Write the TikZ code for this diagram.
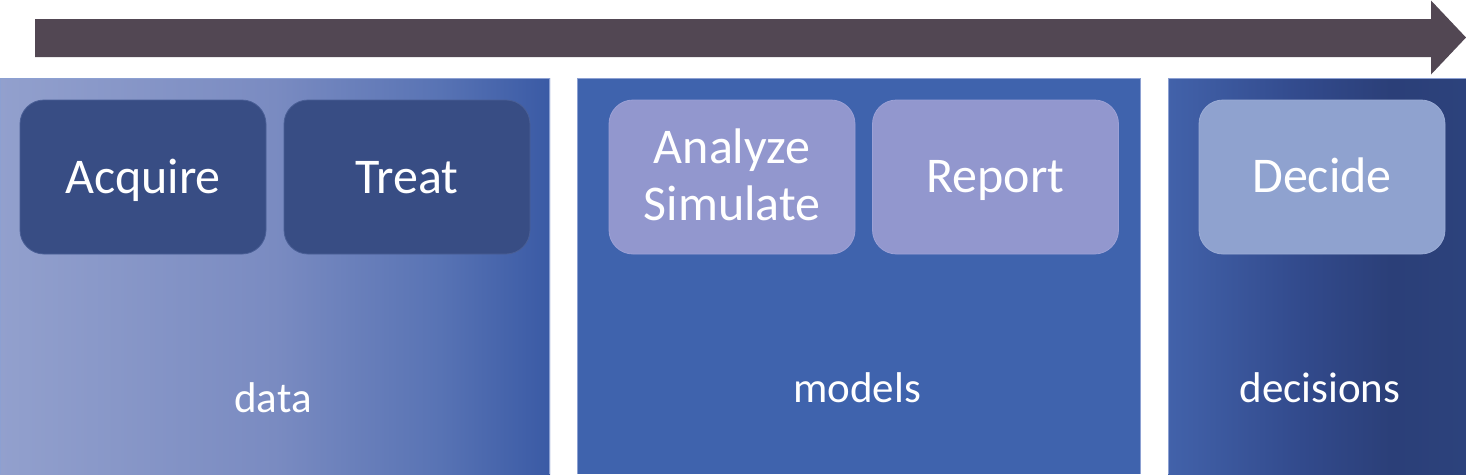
\documentclass[tikz,border=0pt]{standalone}
\usepackage{fontspec}
\setmainfont{Carlito}
\definecolor{arrowcol}{RGB}{82,71,83}
\definecolor{panelline}{RGB}{140,160,210}
\definecolor{modelcol}{RGB}{63,99,173}
\definecolor{darkbox}{RGB}{56,77,132}
\definecolor{darkboxline}{RGB}{74,95,150}
\definecolor{lavbox}{RGB}{146,151,206}
\definecolor{lavboxline}{RGB}{156,161,214}
\definecolor{decbox}{RGB}{143,162,207}
\definecolor{decboxline}{RGB}{155,172,214}
\pgfdeclarehorizontalshading{dataShade}{100bp}{rgb(0bp)=(0.573,0.627,0.804); rgb(25bp)=(0.573,0.627,0.804); rgb(50bp)=(0.478,0.545,0.757); rgb(65bp)=(0.345,0.451,0.706); rgb(75bp)=(0.227,0.353,0.647); rgb(100bp)=(0.227,0.353,0.647)}
\pgfdeclarehorizontalshading{decShade}{100bp}{rgb(0bp)=(0.259,0.384,0.667); rgb(25bp)=(0.259,0.384,0.667); rgb(47.5bp)=(0.196,0.290,0.549); rgb(62.5bp)=(0.169,0.247,0.471); rgb(75bp)=(0.173,0.259,0.486); rgb(100bp)=(0.173,0.259,0.486)}
\begin{document}
\begin{tikzpicture}[x=1pt,y=-1pt,
  panelframe/.style={draw=panelline,line width=1pt},
  taskbox/.style={rectangle,rounded corners=24pt,minimum width=246pt,minimum height=154pt,inner sep=0pt,line width=0.8pt},
  tasktext/.style={text=white,anchor=base,inner sep=0pt,font=\fontsize{50}{57}\selectfont},
  stagetext/.style={text=white,anchor=base,inner sep=0pt,font=\fontsize{43}{50}\selectfont}]
\useasboundingbox (0,0) rectangle (1466,474);
% timeline arrow
\fill[arrowcol] (35,19) -- (1431,19) -- (1431,0.5) -- (1466,37.5) -- (1431,74.5) -- (1431,57) -- (35,57) -- cycle;
% panels
\shade[shading=dataShade] (0,78) rectangle (550,474);
\draw[panelframe] (0.5,78.5) -- (549.5,78.5) -- (549.5,474);
\draw[panelframe] (0.5,78.5) -- (0.5,474);
\fill[modelcol] (577,78) rectangle (1141,474);
\draw[panelframe] (577.5,474) -- (577.5,78.5) -- (1140.5,78.5) -- (1140.5,474);
\shade[shading=decShade] (1168,78) rectangle (1466,474);
\draw[panelframe] (1168.5,474) -- (1168.5,78.5) -- (1466,78.5);
% task boxes
\node[taskbox,fill=darkbox,draw=darkboxline] (acqbox) at (143,177) {};
\node[taskbox,fill=darkbox,draw=darkboxline] (trtbox) at (407,177) {};
\node[taskbox,fill=lavbox,draw=lavboxline] (anabox) at (732,177) {};
\node[taskbox,fill=lavbox,draw=lavboxline] (repbox) at (995.5,177) {};
\node[taskbox,fill=decbox,draw=decboxline] (decbox) at (1322,177) {};
% task labels
\node[tasktext] (acq) at (143,193) {Acquire};
\node[tasktext] (trt) at (407,193) {Treat};
\node[tasktext] (ana) at (732,163) {Analyze};
\node[tasktext] (sim) at (732,220) {Simulate};
\node[tasktext] (rep) at (995.5,192) {Report};
\node[tasktext] (dec) at (1322,192) {Decide};
% stage labels
\node[stagetext] (data) at (273,412) {data};
\node[stagetext] (models) at (857,402) {models};
\node[stagetext] (decisions) at (1320,402) {decisions};
\end{tikzpicture}
\end{document}
